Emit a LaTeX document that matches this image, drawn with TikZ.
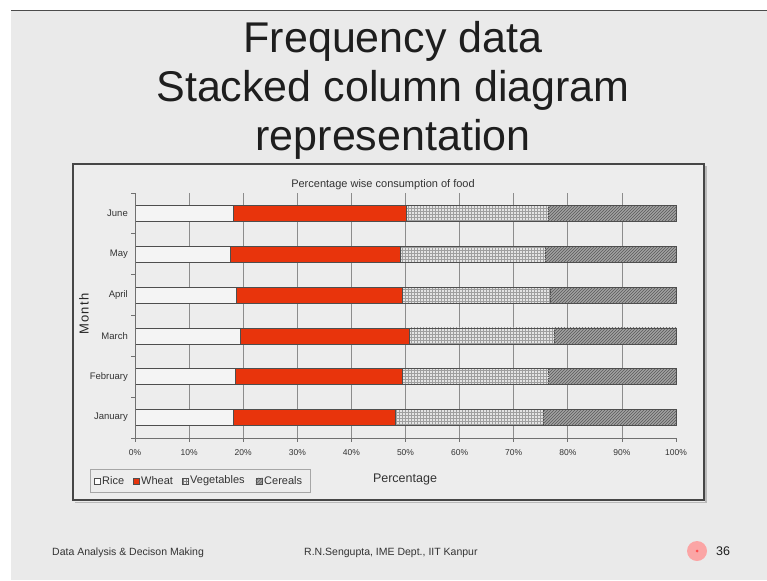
\documentclass[tikz,border=0pt]{standalone}
\usepackage{fontspec}
\setmainfont{Liberation Sans}
\usetikzlibrary{patterns}
\definecolor{bgc}{HTML}{EAEAEA}
\definecolor{wheatc}{HTML}{E8340C}
\definecolor{gridc}{HTML}{8C8C8C}
\definecolor{barline}{HTML}{4E4E4E}
\definecolor{vegc}{HTML}{E4E4E4}
\definecolor{cerc}{HTML}{A2A2A2}
\definecolor{ricec}{HTML}{F4F4F4}
\definecolor{txtc}{HTML}{1E1E1E}
\definecolor{lblc}{HTML}{333333}
\tikzset{
  fs/.style={font=\fontsize{#1}{#1}\selectfont},
  titletext/.style={fs=43, text=txtc, anchor=base, inner sep=0},
  smalltext/.style={fs=#1, text=lblc, inner sep=0},
  gridline/.style={gridc, line width=0.7},
  axisline/.style={draw=gridc!80!black, line width=0.8},
  seg/.style={draw=barline, line width=0.8},
  legsq/.style={draw=barline, line width=0.6, minimum size=6pt, inner sep=0},
}
\begin{document}
\begin{tikzpicture}[x=1pt,y=-1pt]
\useasboundingbox (0,0) rectangle (767,580);
\fill[white] (0,0) rectangle (767,580);
\fill[bgc] (11,11) rectangle (767,580);
% top edge line
\draw[black!70, line width=1.2] (11,10.8) -- (767,10.8);
% titles
\node[titletext] (t1) at (393,53) {Frequency data};
\node[titletext] (t2) at (393,102) {Stacked column diagram};
\node[titletext] (t3) at (393,150) {representation};
% chart frame with shadow
\draw[gray!55, line width=1.2] (75,502.5) -- (706,502.5) -- (706,166);
\draw[draw=barline!90!black, fill=bgc!85!white, line width=1.4] (73,164) rectangle (704,500);
% chart title
\node[smalltext=11, anchor=base] (ctitle) at (383,187) {Percentage wise consumption of food};
% gridlines
\foreach \g in {10,20,...,90} {
  \draw[gridline] ({135+5.41*\g},193) -- ({135+5.41*\g},438);
}
% bars
\foreach \m/\r/\w/\v [count=\i from 0] in {June/18.1/50.1/76.4, May/17.6/49.0/75.8, April/18.7/49.5/76.7, March/19.4/50.8/77.5, February/18.6/49.5/76.5, January/18.2/48.1/75.4} {
  \pgfmathsetmacro\yc{193+40.83*(\i+0.5)}
  \pgfmathsetmacro\xr{135+5.41*\r}
  \pgfmathsetmacro\xw{135+5.41*\w}
  \pgfmathsetmacro\xv{135+5.41*\v}
  \fill[ricec] (135,{\yc-8}) rectangle (\xr,{\yc+8});
  \fill[wheatc] (\xr,{\yc-8}) rectangle (\xw,{\yc+8});
  \fill[vegc] (\xw,{\yc-8}) rectangle (\xv,{\yc+8});
  \fill[pattern=grid, pattern color=gray!75] (\xw,{\yc-8}) rectangle (\xv,{\yc+8});
  \fill[cerc] (\xv,{\yc-8}) rectangle (676,{\yc+8});
  \fill[pattern=north east lines, pattern color=black!65] (\xv,{\yc-8}) rectangle (676,{\yc+8});
  \draw[seg] (135,{\yc-8}) rectangle (676,{\yc+8});
  \draw[seg] (\xr,{\yc-8}) -- (\xr,{\yc+8});
  \draw[seg] (\xw,{\yc-8}) -- (\xw,{\yc+8});
  \draw[seg, densely dotted] (\xv,{\yc-8}) -- (\xv,{\yc+8});
  \node[smalltext=9.5, anchor=east] (m\i) at (128,\yc) {\m};
}
% axes
\draw[axisline] (135,193) -- (135,438) -- (676,438);
\foreach \k in {0,...,6} {
  \draw[axisline] (131,{193+40.83*\k}) -- (135,{193+40.83*\k});
}
\foreach \g [count=\j from 0] in {0,10,...,100} {
  \draw[axisline] ({135+5.41*\g},438) -- ({135+5.41*\g},442);
  \node[smalltext=8.5, anchor=center] (x\j) at ({135+5.41*\g},453) {\g\%};
}
% axis titles
\node[smalltext=13, rotate=90, text=gray!30!black] (ytitle) at (84,314) {\addfontfeature{LetterSpace=10}Month};
\node[smalltext=12.5] (xtitle) at (405,479) {Percentage};
% legend
\draw[gray!70, line width=0.8] (90,469) rectangle (310,492);
\node[legsq, fill=white] (sq1) at (97,481) {};
\node[smalltext=11, anchor=west] (l1) at (102,480.5) {Rice};
\node[legsq, fill=wheatc] (sq2) at (136,481) {};
\node[smalltext=11, anchor=west] (l2) at (141,480.5) {Wheat};
\node[legsq, fill=vegc, pattern=grid, pattern color=gray] (sq3) at (185,481) {};
\node[smalltext=11, anchor=west] (l3) at (190,480.5) {Vegetables};
\node[legsq, fill=cerc] (sq4) at (259,481) {};
\draw[black!60, line width=0.5] (sq4.south west) -- (sq4.north east) (sq4.west) -- (sq4.north) (sq4.south) -- (sq4.east);
\node[smalltext=11, anchor=west] (l4) at (264,480.5) {Cereals};
% footer
\node[smalltext=10.5, anchor=base west] (f1) at (52,555) {Data Analysis \& Decison Making};
\node[smalltext=10.5, anchor=base west] (f2) at (304,555) {R.N.Sengupta, IME Dept., IIT Kanpur};
\node[circle, fill=red!40!white, opacity=0.85, minimum size=20pt, inner sep=0] (dot) at (697,551) {};
\node[circle, fill=red!70!white, minimum size=3pt, inner sep=0] (dotc) at (697,551) {};
\node[smalltext=12.5, anchor=west, text=txtc] (pg) at (716,551) {36};
\end{tikzpicture}
\end{document}
